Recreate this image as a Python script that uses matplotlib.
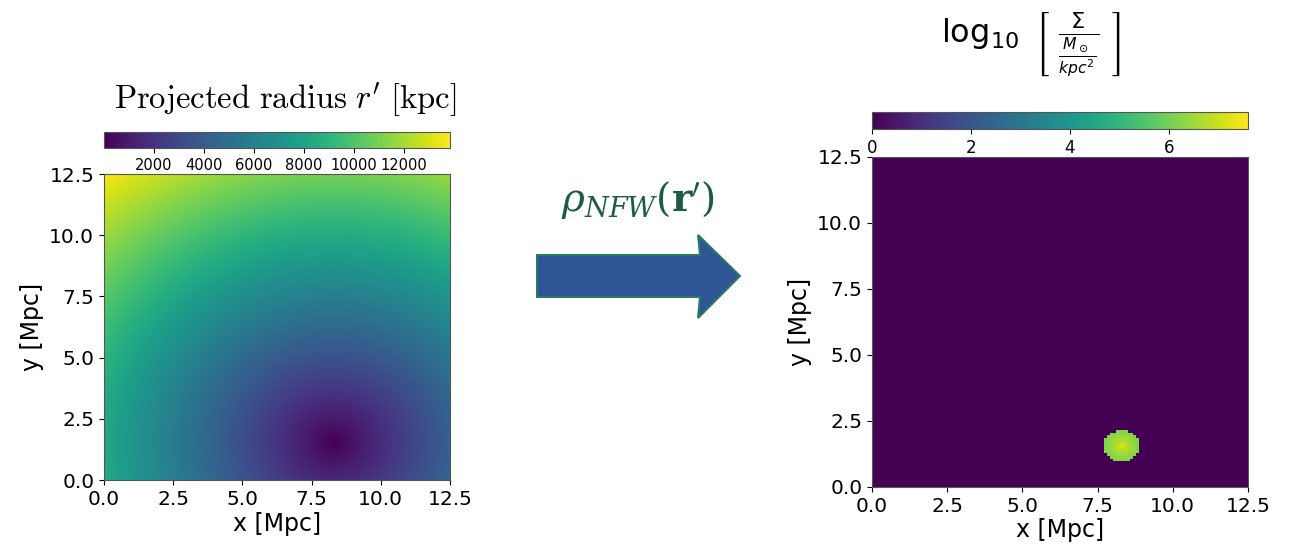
import numpy as np
import matplotlib
matplotlib.use("Agg")
from matplotlib import pyplot as plt
from matplotlib.patches import Polygon

# box and halo centre [Mpc]
box_size = 12.5
halo_x = 8.3
halo_y = 1.55
n_left = 256
n_right = 128

# radial profile of log10 Sigma (annulus edges in Mpc)
ring_edges = [0.06, 0.12, 0.2, 0.3, 0.4, 0.5, 0.6]
ring_logsigma = [7.6, 7.1, 6.8, 6.6, 6.45, 6.3, 6.15]
outside_logsigma = 0.0

left_ticks = [2000, 4000, 6000, 8000, 10000, 12000]
right_ticks = [0, 2, 4, 6]
axis_ticks = [0.0, 2.5, 5.0, 7.5, 10.0, 12.5]

W, H = 1304, 555


def rect(x0, y0, x1, y1):
    # pixel box (top-left origin) -> figure fraction
    return [x0 / W, 1 - y1 / H, (x1 - x0) / W, (y1 - y0) / H]


def radius_grid(n):
    c = (np.arange(n) + 0.5) * box_size / n
    xx, yy = np.meshgrid(c, c)
    return np.hypot(xx - halo_x, yy - halo_y)


def main():
    fig = plt.figure(figsize=(W / 100, H / 100), dpi=100)

    # left: projected radius
    r_kpc = radius_grid(n_left) * 1000
    ax1 = fig.add_axes(rect(104, 174, 450, 480))
    im1 = ax1.imshow(r_kpc, origin="lower", cmap="viridis", extent=[0, box_size, 0, box_size],
                     aspect="auto", interpolation="bilinear", vmin=0, vmax=13840)
    cax1 = fig.add_axes(rect(104, 132, 450, 148))
    cb1 = fig.colorbar(im1, cax=cax1, orientation="horizontal", ticks=left_ticks)
    cb1.ax.tick_params(labelsize=10.5)
    cb1.outline.set_edgecolor("#555555")
    fig.text(285 / W, 1 - 100 / H, r"$\mathrm{Projected\ radius}\ r^{\prime}\ [\mathrm{kpc}]$",
             ha="center", va="center", fontsize=23.5, math_fontfamily="cm")

    # right: surface density
    r_mpc = radius_grid(n_right)
    idx = np.digitize(r_mpc, ring_edges)
    vals = np.array(ring_logsigma + [outside_logsigma])
    sigma = vals[np.clip(idx, 0, len(ring_logsigma))]
    ax2 = fig.add_axes(rect(872, 157, 1248, 487))
    im2 = ax2.imshow(sigma, origin="lower", cmap="viridis", extent=[0, box_size, 0, box_size],
                     aspect="auto", interpolation="nearest", vmin=0, vmax=7.6)
    cax2 = fig.add_axes(rect(872, 112, 1248, 129))
    cb2 = fig.colorbar(im2, cax=cax2, orientation="horizontal", ticks=right_ticks)
    cb2.ax.tick_params(labelsize=12)
    cb2.outline.set_edgecolor("#555555")
    fig.text(1031 / W, 1 - 45 / H,
             r"$\log_{10}\ \left[\ \frac{\Sigma}{\frac{M_\odot}{kpc^2}}\ \right]$",
             ha="center", va="center", fontsize=23)

    for ax in (ax1, ax2):
        ax.set_xticks(axis_ticks)
        ax.set_yticks(axis_ticks)
        ax.tick_params(labelsize=14.5)
        ax.set_xlabel("x [Mpc]", fontsize=17, labelpad=2)
        ax.set_ylabel("y [Mpc]", fontsize=17, labelpad=4)
        for s in ax.spines.values():
            s.set_edgecolor("#555555")

    # arrow in the middle
    pts = [(537, 255), (700, 255), (698, 235), (740, 276), (698, 318), (700, 297), (537, 297)]
    arrow = Polygon([(x / W, 1 - y / H) for x, y in pts], closed=True, transform=fig.transFigure,
                    facecolor="#2f5597", edgecolor="#2a7a62", linewidth=1.5)
    fig.patches.append(arrow)
    fig.text(638 / W, 1 - 200 / H, r"$\rho_{NFW}(\mathbf{r}^{\prime})$", ha="center", va="center",
             fontsize=28, color="#1f5a46", math_fontfamily="dejavuserif")

    fig.savefig("out.png", dpi=100)


if __name__ == "__main__":
    main()
